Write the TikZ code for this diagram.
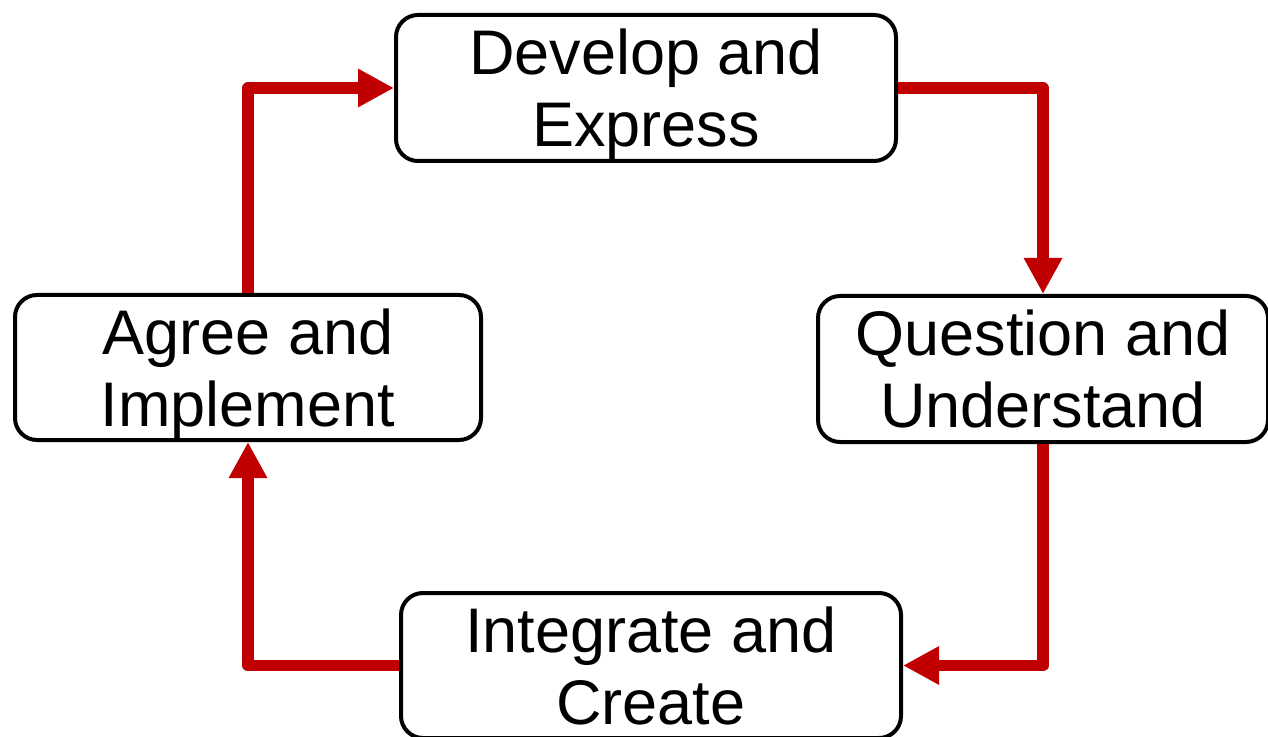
\documentclass[tikz,border=0pt]{standalone}
\usepackage{fontspec}
\setmainfont{Liberation Sans}
\usepackage{tikz}
\usetikzlibrary{arrows.meta}

\definecolor{cyclered}{RGB}{192,0,0}

\tikzset{
    stage/.style = {rectangle, draw = black, line width = 2pt, rounded corners = 11pt, align = center, inner sep = 0pt, text depth = 0pt, font = \fontsize{31.5}{36}\selectfont},
    flow/.style = {draw = cyclered, line width = 5.75pt, line join = round, -{Triangle[length = 18pt, width = 18pt]}}
}

\begin{document}
\begin{tikzpicture}[x = 0.5pt, y = -0.5pt]
    \useasboundingbox (0, 0) rectangle (1268, 737);

    \node (develop) [stage, minimum width = 250pt, minimum height = 73pt] at (646, 88) {Develop and\\Express};
    \node (question) [stage, minimum width = 225pt, minimum height = 73pt] at (1043, 369) {Question and\\Understand};
    \node (integrate) [stage, minimum width = 250pt, minimum height = 72.5pt] at (651, 665.5) {Integrate and\\Create};
    \node (agree) [stage, minimum width = 233pt, minimum height = 72.5pt] at (248, 367.5) {Agree and\\Implement};

    \draw [flow] (agree.north) |- (develop.west);
    \draw [flow] (develop.east) -| (question.north);
    \draw [flow] (question.south) |- (integrate.east);
    \draw [flow] (integrate.west) -| (agree.south);
\end{tikzpicture}
\end{document}
